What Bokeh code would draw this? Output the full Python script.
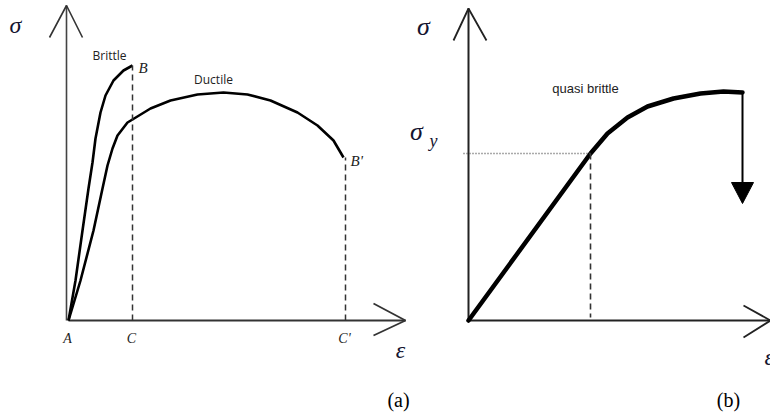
from bokeh.plotting import figure
from bokeh.models import Range1d
from bokeh.embed import file_html
from bokeh.resources import INLINE
from bokeh.core.properties import value

# ---- data (local strain / stress units, origin at A) ----
brittle_strain = [0, 7, 14, 20, 24, 27, 32, 37, 45, 55, 64]
brittle_stress = [0, 40, 90, 132, 158, 182, 208, 225, 240, 250, 255]

ductile_strain = [0, 12, 25, 34, 39, 44, 49, 59, 64, 82, 102, 129, 155, 179, 202, 229, 249, 265, 275]
ductile_stress = [0, 40, 90, 132, 155, 172, 185, 198, 201, 212, 220, 226, 228, 226, 220, 208, 195, 180, 163]

quasi_strain = [0, 122, 139, 159, 179, 205, 232, 255, 274]
quasi_stress = [0, 167, 187, 203, 214, 222, 227, 229, 228]

yield_strain = 122
yield_stress = 167
fail_tip_stress = 117

point_labels = ["A", "C", "C'"]
point_strain = [0, 64, 277]

# ---- figure ----
W, H = 770, 418
p = figure(width=W, height=H, x_range=Range1d(0, W), y_range=Range1d(H, 0),
           output_backend="svg", toolbar_location=None, min_border=0, title=None)
p.axis.visible = False
p.grid.visible = False
p.outline_line_color = None
p.background_fill_color = "white"
p.border_fill_color = "white"

serif = value("Liberation Serif")
sans = value("Open Sans")
arial = value("Liberation Sans")
sym_col = "#141430"

# panel (a)
ax, ay = 68, 320
def A(xs, ys):
    return [ax + v for v in xs], [ay - v for v in ys]

p.line([ax - 2, ax - 2], [ay, 5], line_color="#444444", line_width=1.6)
p.multi_line([[ax - 19, ax - 2, ax + 14]], [[37, 5, 37]], line_color="#333333", line_width=1.6)
p.line([ax, 405], [ay, ay], line_color="#333333", line_width=2)
p.multi_line([[373, 405, 373]], [[303, ay, 335]], line_color="#333333", line_width=1.8)

bx, by = A(brittle_strain, brittle_stress)
p.line(bx, by, line_color="black", line_width=2.6, line_join="round")
dx, dy = A(ductile_strain, ductile_stress)
p.line(dx, dy, line_color="black", line_width=2.6, line_join="round")

p.line([ax + point_strain[1]] * 2, [ay, ay - brittle_stress[-1]], line_color="#333333",
       line_width=1.5, line_dash="6 4")
p.line([ax + point_strain[2]] * 2, [ay, ay - ductile_stress[-1]], line_color="#333333",
       line_width=1.5, line_dash="6 4")

p.text([ax + s - 1 for s in point_strain], [338] * 3, text=point_labels, text_font=serif,
       text_font_style="italic", text_font_size="14px", text_align="center",
       text_baseline="middle", text_color="#222222")
p.text([bx[-1] + 6, dx[-1] + 7], [by[-1] + 2, dy[-1] + 3], text=["B", "B'"], text_font=serif,
       text_font_style="italic", text_font_size="15px", text_align="left",
       text_baseline="middle", text_color="#222222")
p.text([109, 213], [55, 79], text=["Brittle", "Ductile"], text_font=sans,
       text_font_size="12px", text_align="center", text_baseline="middle", text_color="#222222")
p.text([15], [24], text=["σ"], text_font=serif, text_font_style="italic", text_font_size="24px",
       text_align="center", text_baseline="middle", text_color=sym_col)
p.text([400], [349], text=["ε"], text_font=serif, text_font_style="italic", text_font_size="24px",
       text_align="center", text_baseline="middle", text_color=sym_col)
p.text([398], [399], text=["(a)"], text_font=serif, text_font_size="20px",
       text_align="center", text_baseline="middle", text_color="black")

# panel (b)
ox, oy = 468, 320
def B(xs, ys):
    return [ox + v for v in xs], [oy - v for v in ys]

p.line([ox, ox], [oy, 8], line_color="#222222", line_width=2)
p.multi_line([[453, ox, 486]], [[40, 8, 40]], line_color="#222222", line_width=1.8)
p.line([ox, 770], [oy, oy], line_color="#222222", line_width=2)
p.multi_line([[743, 770, 743]], [[305, oy, 337]], line_color="#222222", line_width=1.8)

qx, qy = B(quasi_strain, quasi_stress)
p.line(qx, qy, line_color="black", line_width=4.5, line_join="round", line_cap="round")

p.line([463, ox + yield_strain], [oy - yield_stress] * 2, line_color="#555555",
       line_width=1.5, line_dash="1 2")
p.line([ox + yield_strain] * 2, [oy - yield_stress, oy - 3], line_color="#333333",
       line_width=1.6, line_dash="6 4")

fx = qx[-1]
p.line([fx, fx], [qy[-1], oy - fail_tip_stress - 18], line_color="black", line_width=2)
p.patch([fx - 11, fx + 11, fx], [oy - fail_tip_stress - 21, oy - fail_tip_stress - 21,
        oy - fail_tip_stress], fill_color="black", line_color="black")

p.text([585], [88], text=["quasi brittle"], text_font=arial, text_font_size="13px",
       text_align="center", text_baseline="middle", text_color="#222222")
p.text([423], [26], text=["σ"], text_font=serif, text_font_style="italic", text_font_size="26px",
       text_align="center", text_baseline="middle", text_color=sym_col)
p.text([416], [131], text=["σ"], text_font=serif, text_font_style="italic", text_font_size="26px",
       text_align="center", text_baseline="middle", text_color=sym_col)
p.text([433], [140], text=["y"], text_font=serif, text_font_style="italic", text_font_size="18px",
       text_align="center", text_baseline="middle", text_color=sym_col)
p.text([764], [356], text=["ε"], text_font=serif, text_font_style="italic", text_font_size="24px",
       text_align="left", text_baseline="middle", text_color=sym_col)
p.text([728], [399], text=["(b)"], text_font=serif, text_font_size="20px",
       text_align="center", text_baseline="middle", text_color="black")

open("out.html", "w").write(file_html(p, INLINE))
